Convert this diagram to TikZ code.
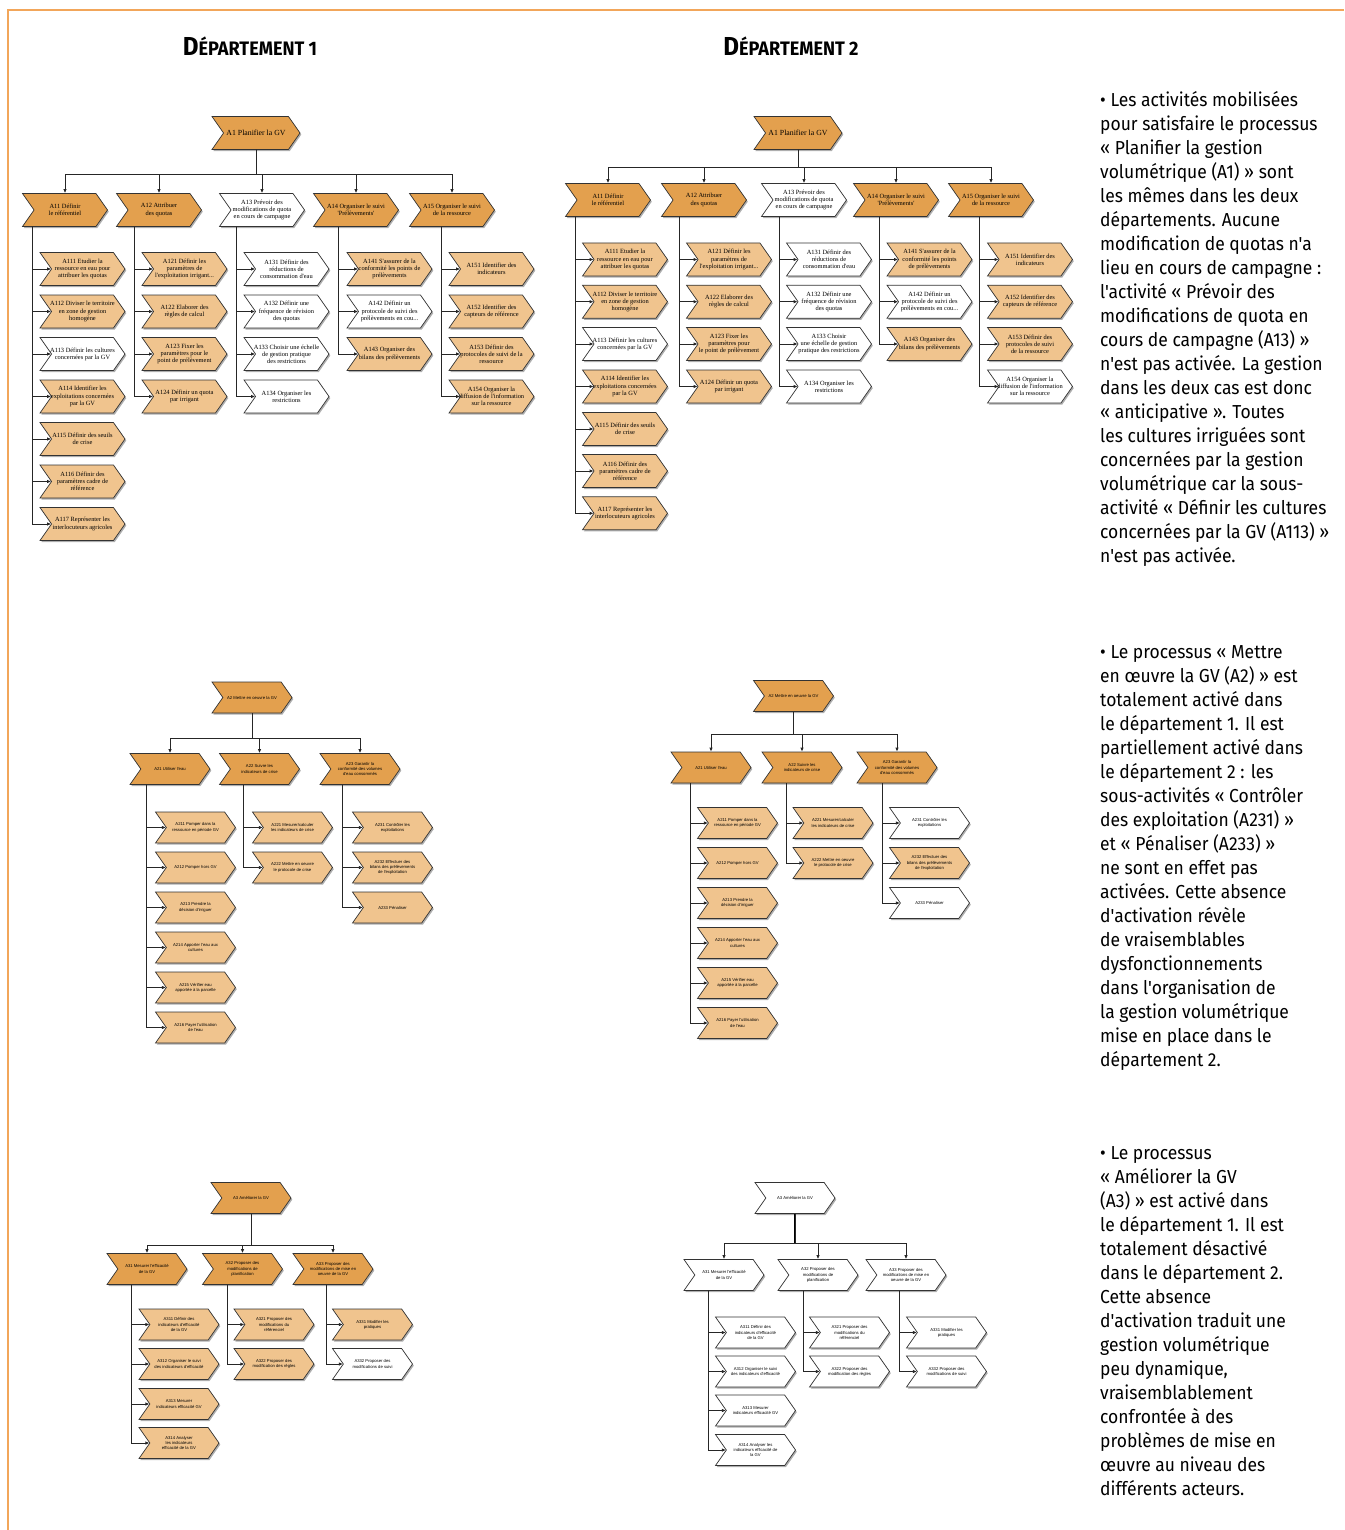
\documentclass[tikz,border=0pt]{standalone}
\usepackage{fontspec}
\usetikzlibrary{shapes.symbols,shadows,arrows.meta}
\newfontfamily\corps[FakeStretch=0.93]{Fira Sans}
\newfontfamily\sanspetit{Liberation Sans}
\newfontfamily\serifboite{Liberation Serif}

\definecolor{orfonce}{HTML}{E3A04E}
\definecolor{orclair}{HTML}{F0C48E}
\definecolor{cadre}{HTML}{F2A65A}

\tikzset{
	tache/.style={signal, signal from=west, signal to=east, signal pointer angle=110,
		draw=black!80, line width=0.7pt, inner sep=0pt, align=center,
		drop shadow={shadow xshift=1.3pt, shadow yshift=-1.6pt, opacity=0.45, fill=black!70}},
	grand/.style={tache, inner xsep=-6.5pt, minimum width=85pt, minimum height=33pt, font=\serifboite\fontsize{6.4}{7.1}\selectfont},
	menu/.style={tache, minimum width=80pt, minimum height=31pt, font=\sanspetit\fontsize{4.2}{5.2}\selectfont},
	fonce/.style={fill=orfonce},
	clair/.style={fill=orclair},
	blanc/.style={fill=white},
	fleche/.style={draw=black!85, line width=0.8pt, -{Latex[length=4pt,width=3.5pt]}},
	bloc/.style={anchor=north west, inner sep=0pt, align=left, font=\corps\fontsize{18.8}{24}\selectfont},
	titre/.style={font=\corps\bfseries}
}

\begin{document}
\begin{tikzpicture}[x=1pt,y=-1pt]
	\useasboundingbox (0,0) rectangle (1344,1530);
	\draw[cadre, line width=1.2pt] (8,1530) -- (8,10) -- (1344,10);

	\node[titre] (dep1) at (250,46) {\fontsize{26}{26}\selectfont D\fontsize{19.5}{19.5}\selectfont ÉPARTEMENT 1};
	\node[titre] (dep2) at (791,46) {\fontsize{26}{26}\selectfont D\fontsize{19.5}{19.5}\selectfont ÉPARTEMENT 2};

	% departement 1 : A1
	\node[grand, fonce, font=\serifboite\fontsize{7.8}{8}\selectfont, minimum width=88pt] (d1a1) at (256,133) {A1 Planifier la GV};
	\node[grand, fonce] (d1a11) at (65,210) {A11 Définir\\le référentiel};
	\node[grand, fonce] (d1a12) at (159,210) {A12 Attribuer\\des quotas};
	\node[grand, blanc] (d1a13) at (262,210) {A13 Prévoir des\\modifications de quota\\en cours de campagne};
	\node[grand, fonce] (d1a14) at (356,210) {A14 Organiser le suivi\\'Prélèvements'};
	\node[grand, fonce] (d1a15) at (452,210) {A15 Organiser le suivi\\de la ressource};

	\node[grand, clair] (d1a111) at (82.5,269) {A111 Etudier la\\ressource en eau pour\\attribuer les quotas};
	\node[grand, clair] (d1a112) at (82.5,311.5) {A112 Diviser le territoire\\en zone de gestion\\homogène};
	\node[grand, blanc] (d1a113) at (82.5,354) {A113 Définir les cultures\\concernées par la GV};
	\node[grand, clair] (d1a114) at (82.5,396.5) {A114 Identifier les\\exploitations concernées\\par la GV};
	\node[grand, clair] (d1a115) at (82.5,439) {A115 Définir des seuils\\de crise};
	\node[grand, clair] (d1a116) at (82.5,481.5) {A116 Définir des\\paramètres cadre de\\référence};
	\node[grand, clair] (d1a117) at (82.5,524) {A117 Représenter les\\interlocuteurs agricoles};

	\node[grand, clair] (d1a121) at (184.5,269) {A121 Définir les\\paramètres de\\l'exploitation irrigant...};
	\node[grand, clair] (d1a122) at (184.5,311.5) {A122 Elaborer des\\règles de calcul};
	\node[grand, clair] (d1a123) at (184.5,354) {A123 Fixer les\\paramètres pour le\\point de prélèvement};
	\node[grand, clair] (d1a124) at (184.5,396.5) {A124 Définir un quota\\par irrigant};

	\node[grand, blanc] (d1a131) at (286.5,269) {A131 Définir des\\réductions de\\consommation d'eau};
	\node[grand, blanc] (d1a132) at (286.5,311.5) {A132 Définir une\\fréquence de révision\\des quotas};
	\node[grand, blanc] (d1a133) at (286.5,354) {A133 Choisir une échelle\\de gestion pratique\\des restrictions};
	\node[grand, blanc] (d1a134) at (286.5,396.5) {A134 Organiser les\\restrictions};

	\node[grand, clair] (d1a141) at (389.5,269) {A141 S'assurer de la\\conformité les points de\\prélèvements};
	\node[grand, blanc] (d1a142) at (389.5,311.5) {A142 Définir un\\protocole de suivi des\\prélèvements en cou...};
	\node[grand, clair] (d1a143) at (389.5,354) {A143 Organiser des\\bilans des prélèvements};

	\node[grand, clair] (d1a151) at (491.5,269) {A151 Identifier des\\indicateurs};
	\node[grand, clair] (d1a152) at (491.5,311.5) {A152 Identifier des\\capteurs de référence};
	\node[grand, clair] (d1a153) at (491.5,354) {A153 Définir des\\protocoles de suivi de la\\ressource};
	\node[grand, clair] (d1a154) at (491.5,396.5) {A154 Organiser la\\diffusion de l'information\\sur la ressource};

	\foreach \c in {11,12,13,14,15}
		\draw[fleche] (d1a1.south) -- ++(0,25) -| (d1a\c.north);
	\foreach \c in {111,112,113,114,115,116,117}
		\draw[fleche] (d1a11.south -| 32,0) |- (d1a\c.west);
	\foreach \c in {121,122,123,124}
		\draw[fleche] (d1a12.south -| 134,0) |- (d1a\c.west);
	\foreach \c in {131,132,133,134}
		\draw[fleche] (d1a13.south -| 236,0) |- (d1a\c.west);
	\foreach \c in {141,142,143}
		\draw[fleche] (d1a14.south -| 338,0) |- (d1a\c.west);
	\foreach \c in {151,152,153,154}
		\draw[fleche] (d1a15.south -| 441,0) |- (d1a\c.west);

	% departement 2 : A1
	\node[grand, fonce, font=\serifboite\fontsize{7.8}{8}\selectfont, minimum width=88pt] (d2a1) at (798,133) {A1 Planifier la GV};
	\node[grand, fonce] (d2a11) at (608,200) {A11 Définir\\le référentiel};
	\node[grand, fonce] (d2a12) at (704,200) {A12 Attribuer\\des quotas};
	\node[grand, blanc] (d2a13) at (804,200) {A13 Prévoir des\\modifications de quota\\en cours de campagne};
	\node[grand, fonce] (d2a14) at (896,200) {A14 Organiser le suivi\\'Prélèvements'};
	\node[grand, fonce] (d2a15) at (991,200) {A15 Organiser le suivi\\de la ressource};

	\node[grand, clair] (d2a111) at (625,259.5) {A111 Etudier la\\ressource en eau pour\\attribuer les quotas};
	\node[grand, clair] (d2a112) at (625,301.7) {A112 Diviser le territoire\\en zone de gestion\\homogène};
	\node[grand, blanc] (d2a113) at (625,344) {A113 Définir les cultures\\concernées par la GV};
	\node[grand, clair] (d2a114) at (625,386.5) {A114 Identifier les\\exploitations concernées\\par la GV};
	\node[grand, clair] (d2a115) at (625,429) {A115 Définir des seuils\\de crise};
	\node[grand, clair] (d2a116) at (625,471) {A116 Définir des\\paramètres cadre de\\référence};
	\node[grand, clair] (d2a117) at (625,513.3) {A117 Représenter les\\interlocuteurs agricoles};

	\node[grand, clair] (d2a121) at (729,259.5) {A121 Définir les\\paramètres de\\l'exploitation irrigant...};
	\node[grand, clair] (d2a122) at (729,301.7) {A122 Elaborer des\\règles de calcul};
	\node[grand, clair] (d2a123) at (729,344) {A123 Fixer les\\paramètres pour\\le point de prélèvement};
	\node[grand, clair] (d2a124) at (729,386.5) {A124 Définir un quota\\par irrigant};

	\node[grand, blanc] (d2a131) at (829,259.5) {A131 Définir des\\réductions de\\consommation d'eau};
	\node[grand, blanc] (d2a132) at (829,301.7) {A132 Définir une\\fréquence de révision\\des quotas};
	\node[grand, blanc] (d2a133) at (829,344) {A133 Choisir\\une échelle de gestion\\pratique des restrictions};
	\node[grand, blanc] (d2a134) at (829,386.5) {A134 Organiser les\\restrictions};

	\node[grand, clair] (d2a141) at (929.5,259.5) {A141 S'assurer de la\\conformité les points\\de prélèvements};
	\node[grand, blanc] (d2a142) at (929.5,301.7) {A142 Définir un\\protocole de suivi des\\prélèvements en cou...};
	\node[grand, clair] (d2a143) at (929.5,344) {A143 Organiser des\\bilans des prélèvements};

	\node[grand, clair] (d2a151) at (1030,259.5) {A151 Identifier des\\indicateurs};
	\node[grand, clair] (d2a152) at (1030,301.7) {A152 Identifier des\\capteurs de référence};
	\node[grand, clair] (d2a153) at (1030,344) {A153 Définir des\\protocoles de suivi\\de la ressource};
	\node[grand, blanc] (d2a154) at (1030,386.5) {A154 Organiser la\\diffusion de l'information\\sur la ressource};

	\foreach \c in {11,12,13,14,15}
		\draw[fleche] (d2a1.south) -- ++(0,18) -| (d2a\c.north);
	\foreach \c in {111,112,113,114,115,116,117}
		\draw[fleche] (d2a11.south -| 575,0) |- (d2a\c.west);
	\foreach \c in {121,122,123,124}
		\draw[fleche] (d2a12.south -| 679,0) |- (d2a\c.west);
	\foreach \c in {131,132,133,134}
		\draw[fleche] (d2a13.south -| 779,0) |- (d2a\c.west);
	\foreach \c in {141,142,143}
		\draw[fleche] (d2a14.south -| 879,0) |- (d2a\c.west);
	\foreach \c in {151,152,153,154}
		\draw[fleche] (d2a15.south -| 979,0) |- (d2a\c.west);

	% departement 1 : A2
	\node[menu, fonce] (d1a2) at (252,697.5) {A2 Mettre en oeuvre la GV};
	\node[menu, fonce] (d1a21) at (170,769) {A21 Utiliser l'eau};
	\node[menu, fonce] (d1a22) at (259.5,769) {A22 Suivre les\\indicateurs de crise};
	\node[menu, fonce] (d1a23) at (360,769) {A23 Garantir la\\conformité des volumes\\d'eau consommés};

	\node[menu, clair] (d1a211) at (195.5,827.5) {A211 Pomper dans la\\ressource en période GV};
	\node[menu, clair] (d1a212) at (195.5,867.5) {A212 Pomper hors GV};
	\node[menu, clair] (d1a213) at (195.5,907.5) {A213 Prendre la\\décision d'irriguer};
	\node[menu, clair] (d1a214) at (195.5,947.5) {A214 Apporter l'eau aux\\cultures};
	\node[menu, clair] (d1a215) at (195.5,987.5) {A215 Vérifier eau\\apportée à la parcelle};
	\node[menu, clair] (d1a216) at (195.5,1027.5) {A216 Payer l'utilisation\\de l'eau};
	\node[menu, clair] (d1a221) at (292.5,827.5) {A221 Mesurer/calculer\\les indicateurs de crise};
	\node[menu, clair] (d1a222) at (292.5,867.5) {A222 Mettre en oeuvre\\le protocole de crise};
	\node[menu, clair] (d1a231) at (392.5,827.5) {A231 Contrôler les\\exploitations};
	\node[menu, clair] (d1a232) at (392.5,867.5) {A232 Effectuer des\\bilans des prélèvements\\de l'exploitation};
	\node[menu, clair] (d1a233) at (392.5,907.5) {A233 Pénaliser};

	\foreach \c in {21,22,23}
		\draw[fleche] (d1a2.south) -- ++(0,25) -| (d1a\c.north);
	\foreach \c in {211,212,213,214,215,216}
		\draw[fleche] (d1a21.south -| 146,0) |- (d1a\c.west);
	\foreach \c in {221,222}
		\draw[fleche] (d1a22.south -| 243,0) |- (d1a\c.west);
	\foreach \c in {231,232,233}
		\draw[fleche] (d1a23.south -| 342,0) |- (d1a\c.west);

	% departement 2 : A2
	\node[menu, fonce] (d2a2) at (793.5,696) {A2 Mettre en oeuvre la GV};
	\node[menu, fonce] (d2a21) at (711,767.5) {A21 Utiliser l'eau};
	\node[menu, fonce] (d2a22) at (802,767.5) {A22 Suivre les\\indicateurs de crise};
	\node[menu, fonce] (d2a23) at (897,767.5) {A23 Garantir la\\conformité des volumes\\d'eau consommés};

	\node[menu, clair] (d2a211) at (737.5,823) {A211 Pomper dans la\\ressource en période GV};
	\node[menu, clair] (d2a212) at (737.5,863) {A212 Pomper hors GV};
	\node[menu, clair] (d2a213) at (737.5,903) {A213 Prendre la\\décision d'irriguer};
	\node[menu, clair] (d2a214) at (737.5,943) {A214 Apporter l'eau aux\\cultures};
	\node[menu, clair] (d2a215) at (737.5,983) {A215 Vérifier eau\\apportée à la parcelle};
	\node[menu, clair] (d2a216) at (737.5,1023) {A216 Payer l'utilisation\\de l'eau};
	\node[menu, clair] (d2a221) at (833,823) {A221 Mesurer/calculer\\les indicateurs de crise};
	\node[menu, clair] (d2a222) at (833,863) {A222 Mettre en oeuvre\\le protocole de crise};
	\node[menu, blanc] (d2a231) at (929.5,823) {A231 Contrôler les\\exploitations};
	\node[menu, clair] (d2a232) at (929.5,863) {A232 Effectuer des\\bilans des prélèvements\\de l'exploitation};
	\node[menu, blanc] (d2a233) at (929.5,903) {A233 Pénaliser};

	\foreach \c in {21,22,23}
		\draw[fleche] (d2a2.south) -- ++(0,23) -| (d2a\c.north);
	\foreach \c in {211,212,213,214,215,216}
		\draw[fleche] (d2a21.south -| 690,0) |- (d2a\c.west);
	\foreach \c in {221,222}
		\draw[fleche] (d2a22.south -| 786,0) |- (d2a\c.west);
	\foreach \c in {231,232,233}
		\draw[fleche] (d2a23.south -| 882,0) |- (d2a\c.west);

	% departement 1 : A3
	\node[menu, fonce] (d1a3) at (251,1198) {A3 Améliorer la GV};
	\node[menu, fonce] (d1a31) at (147,1269) {A31 Mesurer l'efficacité\\de la GV};
	\node[menu, fonce] (d1a32) at (242.5,1269) {A32 Proposer des\\modifications de\\planification};
	\node[menu, fonce] (d1a33) at (333,1269) {A33 Proposer des\\modifications de mise en\\oeuvre de la GV};

	\node[menu, clair] (d1a311) at (179,1324.5) {A311 Définir des\\indicateurs d'efficacité\\de la GV};
	\node[menu, clair] (d1a312) at (179,1364) {A312 Organiser le suivi\\des indicateurs d'efficacité};
	\node[menu, clair] (d1a313) at (179,1404) {A313 Mesurer\\indicateurs efficacité GV};
	\node[menu, clair] (d1a314) at (179,1443) {A314 Analyser\\les indicateurs\\efficacité de la GV};
	\node[menu, clair] (d1a321) at (274,1324.5) {A321 Proposer des\\modifications du\\référenciel};
	\node[menu, clair] (d1a322) at (274,1364) {A322 Proposer des\\modification des règles};
	\node[menu, clair] (d1a331) at (372.5,1324.5) {A331 Modifier les\\pratiques};
	\node[menu, blanc] (d1a332) at (372.5,1364) {A332 Proposer des\\modifications de suivi};

	\foreach \c in {31,32,33}
		\draw[fleche] (d1a3.south) -- ++(0,32) -| (d1a\c.north);
	\foreach \c in {311,312,313,314}
		\draw[fleche] (d1a31.south -| 131,0) |- (d1a\c.west);
	\foreach \c in {321,322}
		\draw[fleche] (d1a32.south -| 227,0) |- (d1a\c.west);
	\foreach \c in {331,332}
		\draw[fleche] (d1a33.south -| 326,0) |- (d1a\c.west);

	% departement 2 : A3
	\node[menu, blanc] (d2a3) at (795,1198) {A3 Améliorer la GV};
	\node[menu, blanc] (d2a31) at (724,1275) {A31 Mesurer l'efficacité\\de la GV};
	\node[menu, blanc] (d2a32) at (818,1275) {A32 Proposer des\\modifications de\\planification};
	\node[menu, blanc] (d2a33) at (906,1275) {A33 Proposer des\\modifications de mise en\\oeuvre de la GV};

	\node[menu, blanc] (d2a311) at (755.5,1332.5) {A311 Définir des\\indicateurs d'efficacité\\de la GV};
	\node[menu, blanc] (d2a312) at (755.5,1371.5) {A312 Organiser le suivi\\des indicateurs d'efficacité};
	\node[menu, blanc] (d2a313) at (755.5,1410.5) {A313 Mesurer\\indicateurs efficacité GV};
	\node[menu, blanc] (d2a314) at (755.5,1450) {A314 Analyser les\\indicateurs efficacité de\\la GV};
	\node[menu, blanc] (d2a321) at (849.5,1332.5) {A321 Proposer des\\modifications du\\référenciel};
	\node[menu, blanc] (d2a322) at (849.5,1371.5) {A322 Proposer des\\modification des règles};
	\node[menu, blanc] (d2a331) at (946.5,1332.5) {A331 Modifier les\\pratiques};
	\node[menu, blanc] (d2a332) at (946.5,1371.5) {A332 Proposer des\\modifications de suivi};

	\draw[line width=2.2pt] (d2a3.south) -- ++(0,30);
	\foreach \c in {31,32,33}
		\draw[fleche] (d2a3.south) -- ++(0,30) -| (d2a\c.north);
	\foreach \c in {311,312,313,314}
		\draw[fleche] (d2a31.south -| 708,0) |- (d2a\c.west);
	\foreach \c in {321,322}
		\draw[fleche] (d2a32.south -| 803,0) |- (d2a\c.west);
	\foreach \c in {331,332}
		\draw[fleche] (d2a33.south -| 899,0) |- (d2a\c.west);

	% commentaires
	\node[bloc] (txt1) at (1100,91) {• Les activités mobilisées\\pour satisfaire le processus\\« Planifier la gestion\\volumétrique (A1) » sont\\les mêmes dans les deux\\départements. Aucune\\modification de quotas n'a\\lieu en cours de campagne :\\l'activité « Prévoir des\\modifications de quota en\\cours de campagne (A13) »\\n'est pas activée. La gestion\\dans les deux cas est donc\\« anticipative ». Toutes\\les cultures irriguées sont\\concernées par la gestion\\volumétrique car la sous-\\activité « Définir les cultures\\concernées par la GV (A113) »\\n'est pas activée.};
	\node[bloc] (txt2) at (1100,645) {• Le processus « Mettre\\en œuvre la GV (A2) » est\\totalement activé dans\\le département 1. Il est\\partiellement activé dans\\le département 2 : les\\sous-activités « Contrôler\\des exploitation (A231) »\\et « Pénaliser (A233) »\\ne sont en effet pas\\activées. Cette absence\\d'activation révèle\\de vraisemblables\\dysfonctionnements\\dans l'organisation de\\la gestion volumétrique\\mise en place dans le\\département 2.};
	\node[bloc] (txt3) at (1100,1146) {• Le processus\\« Améliorer la GV\\(A3) » est activé dans\\le département 1. Il est\\totalement désactivé\\dans le département 2.\\Cette absence\\d'activation traduit une\\gestion volumétrique\\peu dynamique,\\vraisemblablement\\confrontée à des\\problèmes de mise en\\œuvre au niveau des\\différents acteurs.};
\end{tikzpicture}
\end{document}
